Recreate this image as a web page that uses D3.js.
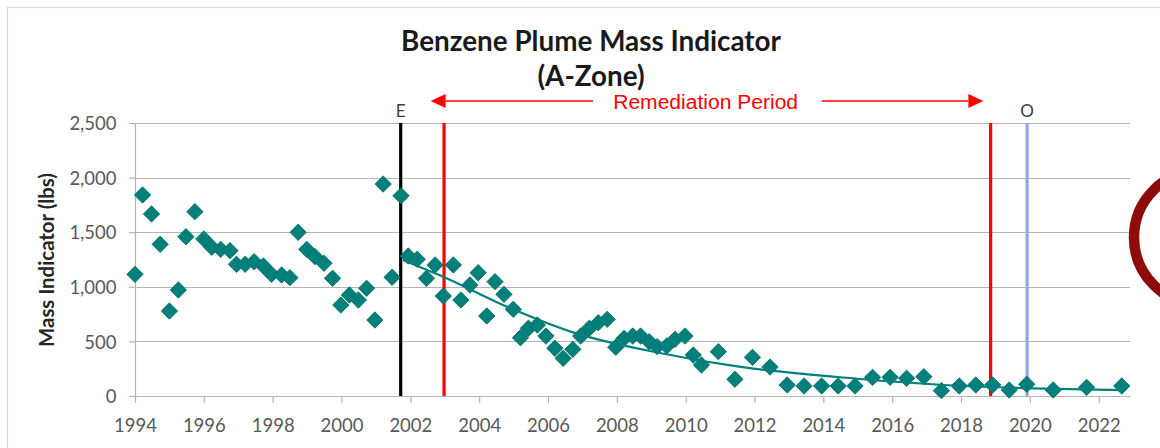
<!DOCTYPE html>
<html>
<head>
<meta charset="utf-8">
<script src="https://cdn.jsdelivr.net/npm/d3@7"></script>
<style>
  html, body { margin: 0; padding: 0; background: #fff; }
  svg { display: block; }
</style>
</head>
<body>
<svg id="chart" width="1160" height="448"></svg>
<script>
// ---- data ----
const sampleYears = [
  1994.00, 1994.22, 1994.48, 1994.73, 1995.00, 1995.26, 1995.48, 1995.74,
  1996.00, 1996.23, 1996.49, 1996.76, 1996.95, 1997.20, 1997.46, 1997.73,
  1997.97, 1998.26, 1998.50, 1998.74, 1998.99, 1999.23, 1999.49, 1999.74,
  1999.98, 2000.23, 2000.49, 2000.73, 2000.97, 2001.21, 2001.47, 2001.73,
  2001.94, 2002.20, 2002.47, 2002.72, 2002.96, 2003.25, 2003.47, 2003.73,
  2003.97, 2004.22, 2004.46, 2004.72, 2004.99, 2005.20, 2005.43, 2005.69,
  2005.94, 2006.20, 2006.44, 2006.72, 2006.95, 2007.20, 2007.46, 2007.72,
  2007.97, 2008.21, 2008.46, 2008.69, 2008.94, 2009.17, 2009.45, 2009.69,
  2009.98, 2010.22, 2010.46, 2010.95, 2011.43, 2011.94, 2012.45, 2012.95,
  2013.44, 2013.95, 2014.43, 2014.92, 2015.43, 2015.94, 2016.42, 2016.92,
  2017.43, 2017.95, 2018.43, 2018.92, 2019.40, 2019.91, 2020.68, 2021.65,
  2022.67
];
const massLbs = [
  1114, 1841, 1667, 1389, 778, 971, 1459, 1688,
  1438, 1362, 1343, 1331, 1206, 1206, 1230, 1191,
  1114, 1108, 1084, 1499, 1343, 1276, 1215, 1078,
  833, 925, 879, 986, 696, 1941, 1087, 1834,
  1282, 1252, 1078, 1200, 916, 1200, 879, 1017,
  1129, 733, 1047, 931, 794, 534, 620, 650,
  549, 437, 345, 427, 549, 620, 671, 702,
  446, 528, 549, 549, 497, 452, 458, 519,
  549, 375, 284, 406, 153, 354, 265, 101,
  92, 92, 92, 92, 171, 171, 162, 177,
  49, 92, 101, 101, 55, 107, 55, 79,
  92
];
// exponential trendline
const trendYears  = [2001.78, 2003.0, 2004.9, 2006.7, 2009.25, 2011.6, 2014.9, 2017.4, 2020.1, 2022.67];
const trendValues = [1245,    1085,   805,    585,    394,     266,    160,    103,    70,     53];

const yTicks = [0, 500, 1000, 1500, 2000, 2500];
const xTicks = [1994, 1996, 1998, 2000, 2002, 2004, 2006, 2008, 2010, 2012, 2014, 2016, 2018, 2020, 2022];
const xDomain = [1994, 2022.91];
const yDomain = [0, 2500];

const eventYears  = [2001.72, 2002.98, 2018.86, 2019.92];
const eventLabels = ["E", "", "", "O"];
const eventColors = ["#000000", "#FF0000", "#FF0000", "#8FAADC"];

const remediationLabel = "Remediation Period";
const remediationLabelYear = 2010.58;
const leftArrowYears  = [2007.31, 2002.59];  // from, tip
const rightArrowYears = [2013.95, 2018.65];  // from, tip

const titleLines = ["Benzene Plume Mass Indicator", "(A-Zone)"];
const yAxisTitle = "Mass Indicator (lbs)";

// ---- drawing ----
const svg = d3.select("#chart");
const W = 1160, H = 448;
const plot = { left: 135, right: 1130, top: 123, bottom: 396 };

const x = d3.scaleLinear().domain(xDomain).range([plot.left, plot.right]);
const y = d3.scaleLinear().domain(yDomain).range([plot.bottom, plot.top]);

const tealFill = "#00807B", tealStroke = "#006B66";
const gridColor = "#B4B4B4";
const labelColor = "#595959";
const FONT = "Lato, 'Open Sans', sans-serif";

// outer chart border
svg.append("rect")
  .attr("x", 7.5).attr("y", 7.5).attr("width", 1200).attr("height", 500)
  .attr("fill", "#fff").attr("stroke", "#D9D9D9").attr("stroke-width", 1.2);

function fitWidth(sel, target) {
  const node = sel.node();
  const fs = parseFloat(sel.attr("font-size"));
  const w = node.getComputedTextLength();
  if (w > 0) sel.attr("font-size", (fs * target / w).toFixed(2));
}

// gridlines
svg.append("g").selectAll("line").data(yTicks).join("line")
  .attr("x1", plot.left).attr("x2", plot.right)
  .attr("y1", d => Math.round(y(d)) + 0.5).attr("y2", d => Math.round(y(d)) + 0.5)
  .attr("stroke", gridColor).attr("stroke-width", 1.2);

// y axis
const yAxis = svg.append("g")
  .attr("transform", `translate(${plot.left},0)`)
  .call(d3.axisLeft(y).tickValues(yTicks).tickFormat(d3.format(",")).tickSize(6).tickPadding(12));
yAxis.select(".domain").attr("stroke", gridColor).attr("stroke-width", 1.2);
yAxis.selectAll(".tick line").attr("stroke", gridColor).attr("stroke-width", 1.2);
yAxis.selectAll(".tick text")
  .attr("x", -18.5).attr("dy", "0.36em")
  .attr("font-family", FONT).attr("font-size", 18.5).attr("fill", labelColor);

// x axis
const xAxis = svg.append("g")
  .attr("transform", `translate(0,${plot.bottom})`)
  .call(d3.axisBottom(x).tickValues(xTicks).tickFormat(d => String(d)).tickSize(7).tickSizeOuter(0));
xAxis.select(".domain").attr("stroke", gridColor).attr("stroke-width", 1.2);
xAxis.selectAll(".tick line").attr("stroke", gridColor).attr("stroke-width", 1.2);
xAxis.selectAll(".tick text")
  .attr("y", 35.5).attr("dy", null)
  .attr("font-family", FONT).attr("font-size", 18.5).attr("fill", labelColor);

// event vertical lines
const ev = eventYears.map((yr, i) => ({ yr, label: eventLabels[i], color: eventColors[i] }));
svg.append("g").selectAll("line").data(ev).join("line")
  .attr("x1", d => x(d.yr)).attr("x2", d => x(d.yr))
  .attr("y1", plot.top).attr("y2", plot.bottom)
  .attr("stroke", d => d.color).attr("stroke-width", 3.2);
svg.append("g").selectAll("text").data(ev.filter(d => d.label)).join("text")
  .attr("x", d => x(d.yr)).attr("y", 116.5)
  .attr("text-anchor", "middle")
  .attr("font-family", FONT).attr("font-size", 17).attr("fill", "#404040")
  .text(d => d.label);

// remediation period annotation
const arrowY = 101;
const red = "#FF0000";
const ann = svg.append("g");
[leftArrowYears, rightArrowYears].forEach(([from, tip]) => {
  const dir = Math.sign(x(tip) - x(from));
  const headLen = 15, headHalf = 7;
  ann.append("line")
    .attr("x1", x(from)).attr("x2", x(tip) - dir * headLen)
    .attr("y1", arrowY).attr("y2", arrowY)
    .attr("stroke", red).attr("stroke-width", 1.6);
  ann.append("path")
    .attr("d", `M${x(tip)},${arrowY} L${x(tip) - dir * headLen},${arrowY - headHalf} L${x(tip) - dir * headLen},${arrowY + headHalf} Z`)
    .attr("fill", red);
});
const remText = ann.append("text")
  .attr("x", x(remediationLabelYear)).attr("y", 108.5)
  .attr("text-anchor", "middle")
  .attr("font-family", "'Liberation Sans', Arial, sans-serif").attr("font-size", 20)
  .attr("fill", red).text(remediationLabel);
fitWidth(remText, 185);

// trendline
const trend = trendYears.map((yr, i) => [yr, trendValues[i]]);
// markers
const pts = sampleYears.map((yr, i) => [yr, massLbs[i]]);
const h = 8.2;
svg.append("g").selectAll("path").data(pts).join("path")
  .attr("d", d => `M${x(d[0])},${y(d[1]) - h} L${x(d[0]) + h},${y(d[1])} L${x(d[0])},${y(d[1]) + h} L${x(d[0]) - h},${y(d[1])} Z`)
  .attr("fill", tealFill).attr("stroke", tealStroke).attr("stroke-width", 0.8);

svg.append("path")
  .datum(trend)
  .attr("d", d3.line().x(d => x(d[0])).y(d => y(d[1])).curve(d3.curveMonotoneX))
  .attr("fill", "none").attr("stroke", tealFill).attr("stroke-width", 2.2);

// title
const t1 = svg.append("text")
  .attr("x", 591).attr("y", 50.5).attr("text-anchor", "middle")
  .attr("font-family", FONT).attr("font-weight", 700).attr("font-size", 24)
  .attr("fill", "#1A1A1A").text(titleLines[0]);
fitWidth(t1, 380);
const t2 = svg.append("text")
  .attr("x", 591).attr("y", 85.5).attr("text-anchor", "middle")
  .attr("font-family", FONT).attr("font-weight", 700).attr("font-size", 24)
  .attr("fill", "#1A1A1A").text(titleLines[1]);
t2.attr("font-size", t1.attr("font-size"));

// y-axis title
const yt = svg.append("text")
  .attr("transform", "translate(54,260) rotate(-90)")
  .attr("text-anchor", "middle")
  .attr("font-family", FONT).attr("font-weight", 700).attr("font-size", 17)
  .attr("fill", "#262626").text(yAxisTitle);
fitWidth(yt, 174);

// decorative dark red circle at the right edge
svg.append("circle")
  .attr("cx", 1201).attr("cy", 237.5).attr("r", 67)
  .attr("fill", "none").attr("stroke", "#8E0B0B").attr("stroke-width", 10.5);
</script>
</body>
</html>
